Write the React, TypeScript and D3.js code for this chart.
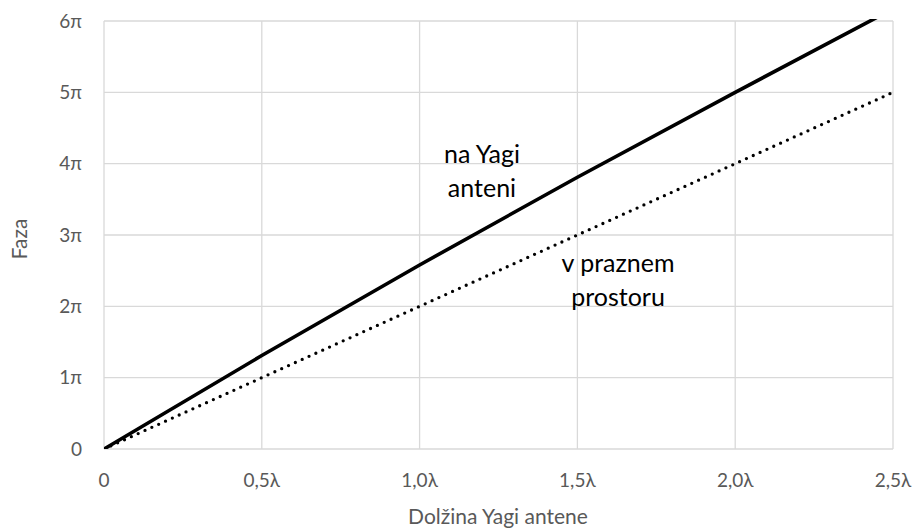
import * as d3 from 'd3';

// phase (in units of π) vs. antenna length (in λ)
const lengths = [0, 0.5, 1.0, 1.5, 2.0, 2.5];
const yagiPhase = [0, 1.31, 2.58, 3.81, 5.0, 6.17];
const freeSpacePhase = [0, 1, 2, 3, 4, 5];

const xTicks = [0, 0.5, 1.0, 1.5, 2.0, 2.5];
const xTickLabels = ['0', '0,5λ', '1,0λ', '1,5λ', '2,0λ', '2,5λ'];
const yTicks = [0, 1, 2, 3, 4, 5, 6];
const yTickLabels = ['0', '1π', '2π', '3π', '4π', '5π', '6π'];

const W = 917;
const H = 530;
const margin = { top: 21, right: 24, bottom: 81, left: 104 };
const font = "Lato, 'Open Sans', sans-serif";

export default function App() {
  const x = d3.scaleLinear().domain([0, 2.5]).range([margin.left, W - margin.right]);
  const y = d3.scaleLinear().domain([0, 6]).range([H - margin.bottom, margin.top]);

  const line = d3
    .line<number>()
    .x((_, i) => x(lengths[i]))
    .y((d) => y(d));

  return (
    <div style={{ position: 'fixed', left: 0, top: 0 }}>
      <svg width={W} height={H} style={{ display: 'block', background: '#fff' }}>
        <defs>
          <clipPath id="plot">
            <rect
              x={margin.left}
              y={margin.top - 2}
              width={W - margin.left - margin.right}
              height={H - margin.top - margin.bottom + 2}
            />
          </clipPath>
        </defs>

        {/* grid */}
        {yTicks.map((t) => (
          <line key={'gy' + t} x1={x(0)} x2={x(2.5)} y1={y(t)} y2={y(t)} stroke="#d9d9d9" strokeWidth={1.3} />
        ))}
        {xTicks.map((t) => (
          <line key={'gx' + t} x1={x(t)} x2={x(t)} y1={y(0)} y2={y(6)} stroke="#d9d9d9" strokeWidth={1.3} />
        ))}

        {/* tick labels */}
        {yTicks.map((t, i) => (
          <text key={'ly' + t} x={82} y={y(t)} dy="0.35em" textAnchor="end" fontFamily={font} fontSize={19} fill="#595959">
            {yTickLabels[i]}
          </text>
        ))}
        {xTicks.map((t, i) => (
          <text key={'lx' + t} x={x(t)} y={487} textAnchor="middle" fontFamily={font} fontSize={19} fill="#595959">
            {xTickLabels[i]}
          </text>
        ))}

        {/* axis titles */}
        <text x={498} y={524} textAnchor="middle" fontFamily={font} fontSize={21} fill="#595959">
          Dolžina Yagi antene
        </text>
        <text
          transform={`translate(27,239) rotate(-90)`}
          textAnchor="middle"
          fontFamily={font}
          fontSize={21}
          fill="#595959"
        >
          Faza
        </text>

        {/* series */}
        <g clipPath="url(#plot)">
          <path
            d={line(freeSpacePhase) || ''}
            fill="none"
            stroke="#000"
            strokeWidth={3.3}
            strokeLinecap="round"
            strokeDasharray="0 7.5"
          />
          <path d={line(yagiPhase) || ''} fill="none" stroke="#000" strokeWidth={3.6} />
        </g>

        {/* annotations */}
        <g fontFamily={font} fontSize={25} fill="#000" textAnchor="middle">
          <text x={482} y={163}>na Yagi</text>
          <text x={482} y={197}>anteni</text>
          <text x={618} y={272}>v praznem</text>
          <text x={618} y={306}>prostoru</text>
        </g>
      </svg>
    </div>
  );
}
